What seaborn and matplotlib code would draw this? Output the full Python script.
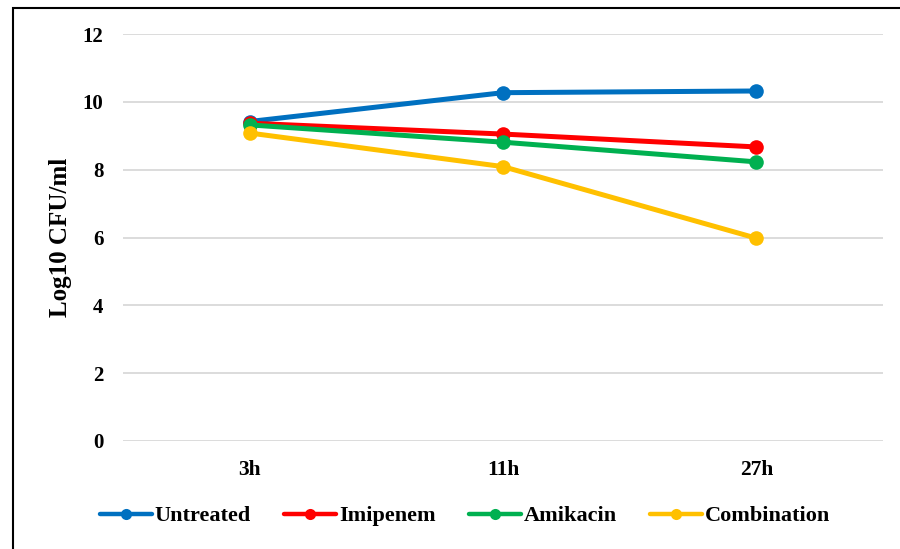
import matplotlib
matplotlib.use("Agg")
import matplotlib.pyplot as plt
from matplotlib.patches import Rectangle
from matplotlib.lines import Line2D
import pandas as pd
import seaborn as sns

# Sampling times and log10 counts for each treatment arm
times = ["3h", "11h", "27h"]
untreated = [9.42, 10.27, 10.32]
imipenem = [9.37, 9.05, 8.67]
amikacin = [9.32, 8.81, 8.23]
combination = [9.08, 8.09, 5.98]

series_names = ["Untreated", "Imipenem", "Amikacin", "Combination"]
series_values = [untreated, imipenem, amikacin, combination]
series_colors = ["#0070C0", "#FF0000", "#00B050", "#FFC000"]

y_ticks = [0, 2, 4, 6, 8, 10, 12]

rows = []
for name, vals in zip(series_names, series_values):
    for t, v in zip(times, vals):
        rows.append({"time": t, "value": v, "group": name})
df = pd.DataFrame(rows)

sns.set_theme(style="white")
plt.rcParams["font.family"] = ["Liberation Serif", "DejaVu Serif"]
plt.rcParams["font.weight"] = "bold"
plt.rcParams["text.color"] = "black"
plt.rcParams["axes.labelcolor"] = "black"
plt.rcParams["xtick.color"] = "black"
plt.rcParams["ytick.color"] = "black"

fig = plt.figure(figsize=(9, 5.49), dpi=100)
W, H = 900, 549
ax = fig.add_axes([123 / W, 1 - 441 / H, (883 - 123) / W, (441 - 34) / H])

sns.lineplot(
    data=df, x="time", y="value", hue="group", hue_order=series_names,
    palette=series_colors, marker="o", markersize=10.5, markeredgewidth=0,
    linewidth=3.6, ax=ax, legend=False, sort=False,
)

ax.set_xlim(-0.5, 2.5)
ax.set_ylim(0, 12)
ax.set_yticks(y_ticks)
ax.set_yticklabels([str(v) for v in y_ticks], fontsize=15, fontweight="bold")
ax.set_xticks(range(len(times)))
ax.set_xticklabels(times, fontsize=15.5, fontweight="bold")
ax.tick_params(axis="y", length=0, pad=14)
ax.tick_params(axis="x", length=0, pad=14)
ax.grid(axis="y", color="#d9d9d9", linewidth=1.3)
ax.set_axisbelow(True)
for s in ax.spines.values():
    s.set_visible(False)
ax.set_xlabel("")
ax.set_ylabel("Log10 CFU/ml", fontsize=18, fontweight="bold", labelpad=8)

handles = [Line2D([], [], color=c, linewidth=3.2, marker="o", markersize=8,
                  markeredgewidth=0) for c in series_colors]
fig.legend(handles, series_names, loc="center", ncol=4,
           bbox_to_anchor=(465 / W, 1 - 516 / H), frameon=False,
           handlelength=2.35, handletextpad=0.12, columnspacing=1.5,
           prop={"size": 16, "weight": "bold"})

# outer frame around the figure
fig.patches.append(Rectangle((13 / W, -0.05), 1.0, 1 - 8 / H + 0.05,
                             transform=fig.transFigure, fill=False,
                             edgecolor="black", linewidth=1.5))

fig.savefig("out.png", dpi=100)
